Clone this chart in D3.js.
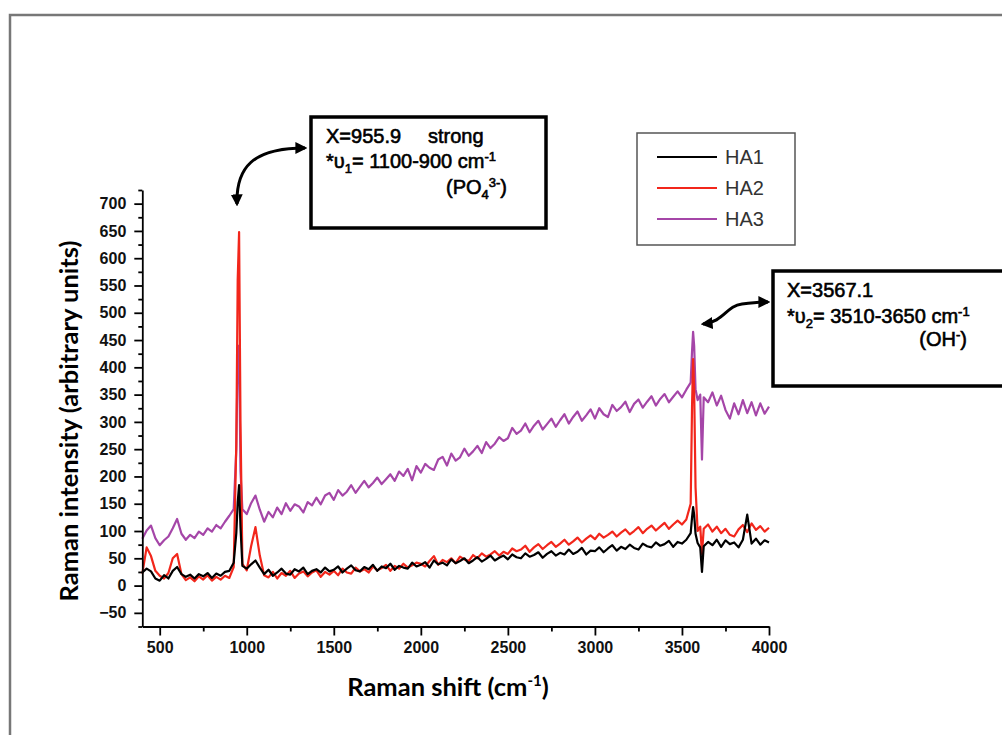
<!DOCTYPE html>
<html>
<head>
<meta charset="utf-8">
<script src="https://cdn.jsdelivr.net/npm/d3@7"></script>
<style>
  body { margin: 0; background: #fff; }
  svg { display: block; }
</style>
</head>
<body>
<div id="chart"></div>
<script>
// Raman shift values (cm-1), shared by all three spectra
const shifts = [
  400,425,450,475,500,525,550,575,600,625,650,675,700,725,750,775,800,825,850,875,900,925,
  940,948,956,964,975,
  1000,1025,1050,1075,1100,1125,1150,1175,1200,1225,1250,1275,1300,1325,1350,1375,1400,1425,1450,1475,
  1500,1525,1550,1575,1600,1625,1650,1675,1700,1725,1750,1775,1800,1825,1850,1875,1900,1925,1950,1975,
  2000,2025,2050,2075,2100,2125,2150,2175,2200,2225,2250,2275,2300,2325,2350,2375,2400,2425,2450,2475,
  2500,2525,2550,2575,2600,2625,2650,2675,2700,2725,2750,2775,2800,2825,2850,2875,2900,2925,2950,2975,
  3000,3025,3050,3075,3100,3125,3150,3175,3200,3225,3250,3275,3300,3325,3350,3375,3400,3425,3450,3475,
  3500,3525,3550,
  3558,3564,3570,3578,3590,3605,3615,3625,
  3650,3675,3700,3725,3750,3775,3800,3825,3850,3875,3900,3925,3950,3975,4000
];

const ha1 = [
  24,31,26,13,9,19,13,27,34,21,16,20,13,21,17,23,14,22,18,25,27,42,
  96,152,184,108,36,
  31,39,46,33,21,29,18,24,31,22,20,30,26,33,21,27,30,24,33,26,
  29,35,24,31,37,28,26,34,30,38,27,35,32,40,29,36,33,31,42,35,
  38,43,33,46,39,42,37,48,41,45,50,41,46,52,44,49,55,46,51,55,
  48,57,52,50,59,53,56,61,51,58,63,55,60,57,66,58,62,69,57,64,
  63,70,61,68,74,64,71,67,75,69,66,77,72,70,79,73,76,82,71,80,
  77,84,96,
  125,144,130,95,78,70,25,72,
  80,74,84,71,83,76,79,70,84,130,77,86,75,83,79
];

const ha2 = [
  22,70,54,27,18,13,23,50,58,21,10,15,8,17,11,19,9,16,11,18,14,34,
  260,560,648,300,40,
  28,72,107,55,19,15,25,13,23,18,27,14,22,26,17,24,28,16,25,20,
  27,19,31,24,22,33,26,30,24,35,28,32,38,27,36,31,40,33,37,42,
  40,35,45,54,38,47,43,50,41,53,48,45,56,50,59,53,57,63,55,62,
  58,68,63,66,73,62,70,76,67,74,80,71,77,84,75,81,88,79,86,92,
  85,95,88,93,99,90,97,103,94,100,107,96,104,110,101,108,115,104,112,119,
  112,121,150,
  330,415,360,180,100,108,58,104,
  112,99,108,96,104,93,90,103,111,98,114,102,109,99,106
];

const ha3 = [
  86,101,110,87,74,83,90,105,122,95,84,93,87,99,93,105,99,111,105,117,128,140,
  250,420,440,210,140,
  131,151,165,139,117,135,125,143,131,151,137,149,145,134,153,147,161,149,165,170,
  157,175,165,172,184,170,181,192,180,188,198,186,195,204,192,209,201,214,193,219,
  207,223,216,212,231,236,220,242,229,235,251,238,246,256,243,263,252,260,272,265,
  270,289,278,284,297,281,293,302,286,296,306,291,303,314,297,309,319,302,312,323,
  306,325,314,309,331,320,327,337,318,333,341,326,337,347,330,342,351,336,346,356,
  345,359,372,
  430,465,440,360,340,350,231,345,
  336,354,330,348,322,306,334,314,340,316,336,312,334,315,328
];

const seriesNames = ["HA1", "HA2", "HA3"];
const seriesColors = { HA1: "#000000", HA2: "#f2261b", HA3: "#a546a8" };
const xTicks = [500, 1000, 1500, 2000, 2500, 3000, 3500, 4000];
const yTicks = [-50, 0, 50, 100, 150, 200, 250, 300, 350, 400, 450, 500, 550, 600, 650, 700];

function drawChart() {
    const W = 1002, H = 735;
    const svg = d3.select("#chart").append("svg")
        .attr("width", W)
        .attr("height", H);

    // outer frame of the figure
    svg.append("rect")
        .attr("x", 10).attr("y", 15)
        .attr("width", 1000).attr("height", 730)
        .attr("fill", "none")
        .attr("stroke", "#777")
        .attr("stroke-width", 2.5);

    const x = d3.scaleLinear().domain([400, 4000]).range([142.3, 769]);
    const y = d3.scaleLinear().domain([-75, 725]).range([626.5, 190]);

    const series = {
        HA1: shifts.map((s, i) => ({ x: s, y: ha1[i] })),
        HA2: shifts.map((s, i) => ({ x: s, y: ha2[i] })),
        HA3: shifts.map((s, i) => ({ x: s, y: ha3[i] }))
    };

    const line = d3.line()
        .x(d => x(d.x))
        .y(d => y(d.y));

    // draw purple first so red and black sit on top
    ["HA3", "HA2", "HA1"].forEach(name => {
        svg.append("path")
            .datum(series[name])
            .attr("d", line)
            .attr("fill", "none")
            .attr("stroke", seriesColors[name])
            .attr("stroke-width", 2.2)
            .attr("stroke-linejoin", "round");
    });

    // axes: major ticks with labels, then minor ticks
    const tickFont = "'Liberation Sans', Arial, sans-serif";

    const xAxis = svg.append("g")
        .attr("transform", `translate(0, ${y(-75)})`)
        .call(d3.axisBottom(x).tickValues(xTicks).tickFormat(d3.format("d"))
            .tickSize(9).tickSizeOuter(0).tickPadding(6));
    svg.append("g")
        .attr("transform", `translate(0, ${y(-75)})`)
        .call(d3.axisBottom(x).tickValues([750, 1250, 1750, 2250, 2750, 3250, 3750]).tickSize(5).tickFormat(""))
        .call(g => g.select(".domain").remove());

    const yAxis = svg.append("g")
        .attr("transform", `translate(${x(400)}, 0)`)
        .call(d3.axisLeft(y).tickValues(yTicks).tickFormat(d3.format("d"))
            .tickSize(8).tickSizeOuter(0).tickPadding(8));
    svg.append("g")
        .attr("transform", `translate(${x(400)}, 0)`)
        .call(d3.axisLeft(y).tickValues([-75, -25, 25, 75, 125, 175, 225, 275, 325, 375, 425, 475, 525, 575, 625, 675, 725]).tickSize(4).tickFormat(""))
        .call(g => g.select(".domain").remove());

    svg.selectAll(".domain, .tick line")
        .attr("stroke", "#000")
        .attr("stroke-width", 1.8);
    [xAxis, yAxis].forEach(a => a.selectAll("text")
        .attr("fill", "#111")
        .attr("font-family", tickFont)
        .attr("font-weight", "bold")
        .attr("font-size", 16));

    // axis titles
    const titleFont = "Lato, 'Open Sans', sans-serif";
    svg.append("text")
        .attr("x", 448).attr("y", 696)
        .attr("text-anchor", "middle")
        .style("font-family", titleFont)
        .style("font-weight", "bold")
        .style("font-size", "25.5px")
        .attr("fill", "#000")
        .text("Raman shift (cm")
        .call(t => t.append("tspan").attr("dy", -10).style("font-size", "15px").text("-1"))
        .call(t => t.append("tspan").attr("dy", 10).text(")"));

    svg.append("text")
        .attr("transform", "translate(78, 421) rotate(-90)")
        .attr("text-anchor", "middle")
        .style("font-family", titleFont)
        .style("font-weight", "bold")
        .style("font-size", "25.5px")
        .attr("fill", "#000")
        .text("Raman intensity (arbitrary units)");

    // legend
    const legend = svg.append("g").attr("transform", "translate(637, 133)");
    legend.append("rect")
        .attr("width", 158).attr("height", 112)
        .attr("fill", "#fff")
        .attr("stroke", "#555")
        .attr("stroke-width", 1.5);
    seriesNames.forEach((name, i) => {
        const ly = 24 + i * 31;
        legend.append("line")
            .attr("x1", 20).attr("x2", 80)
            .attr("y1", ly).attr("y2", ly)
            .attr("stroke", seriesColors[name])
            .attr("stroke-width", 2.2);
        legend.append("text")
            .attr("x", 88).attr("y", ly)
            .attr("dy", "0.35em")
            .style("font-family", tickFont)
            .style("font-size", "20px")
            .attr("fill", "#333")
            .text(name);
    });

    // annotation boxes
    const defs = svg.append("defs");
    defs.append("marker")
        .attr("id", "head")
        .attr("viewBox", "0 -5 10 10")
        .attr("refX", 8).attr("refY", 0)
        .attr("markerWidth", 4).attr("markerHeight", 4)
        .attr("orient", "auto-start-reverse")
        .append("path")
        .attr("d", "M0,-5L10,0L0,5Z")
        .attr("fill", "#000");

    const noteFont = "'Liberation Sans', Arial, sans-serif";

    function noteBox(bx, by, bw, bh) {
        svg.append("rect")
            .attr("x", bx).attr("y", by)
            .attr("width", bw).attr("height", bh)
            .attr("fill", "#fff")
            .attr("stroke", "#000")
            .attr("stroke-width", 3.5);
    }

    // scanned text looks heavy, so a thin stroke thickens the regular face
    function noteText(tx, ty, anchor) {
        return svg.append("text")
            .attr("x", tx).attr("y", ty)
            .attr("text-anchor", anchor || "start")
            .style("font-family", noteFont)
            .style("font-size", "20px")
            .attr("fill", "#000")
            .attr("stroke", "#000")
            .attr("stroke-width", 0.6);
    }

    // box for the phosphate band
    noteBox(311, 117, 235, 111);
    noteText(326, 143).text("X=955.9")
        .append("tspan").attr("x", 428).text("strong");
    noteText(326, 168).text("*υ")
        .call(t => t.append("tspan").attr("dy", 5).style("font-size", "13px").text("1"))
        .call(t => t.append("tspan").attr("dy", -5).text("= 1100-900 cm"))
        .call(t => t.append("tspan").attr("dy", -7).style("font-size", "13px").text("-1"));
    noteText(507, 194, "end").text("(PO")
        .call(t => t.append("tspan").attr("dy", 5).style("font-size", "13px").text("4"))
        .call(t => t.append("tspan").attr("dy", -12).style("font-size", "13px").text("3-"))
        .call(t => t.append("tspan").attr("dy", 7).text(")"));

    svg.append("path")
        .attr("d", "M237,204 C236,168 252,148 305,148")
        .attr("fill", "none")
        .attr("stroke", "#000")
        .attr("stroke-width", 3)
        .attr("marker-start", "url(#head)")
        .attr("marker-end", "url(#head)");

    // box for the hydroxyl band
    noteBox(773, 271, 250, 115);
    noteText(787, 297).text("X=3567.1");
    noteText(787, 323).text("*υ")
        .call(t => t.append("tspan").attr("dy", 5).style("font-size", "13px").text("2"))
        .call(t => t.append("tspan").attr("dy", -5).text("= 3510-3650 cm"))
        .call(t => t.append("tspan").attr("dy", -7).style("font-size", "13px").text("-1"));
    noteText(967, 346, "end").text("(OH")
        .call(t => t.append("tspan").attr("dy", -7).style("font-size", "13px").text("-"))
        .call(t => t.append("tspan").attr("dy", 7).text(")"));

    svg.append("path")
        .attr("d", "M703,324 C724,322 726,306 742,304 S760,302 768,302")
        .attr("fill", "none")
        .attr("stroke", "#000")
        .attr("stroke-width", 3)
        .attr("marker-start", "url(#head)")
        .attr("marker-end", "url(#head)");
}

drawChart();
</script>
</body>
</html>
